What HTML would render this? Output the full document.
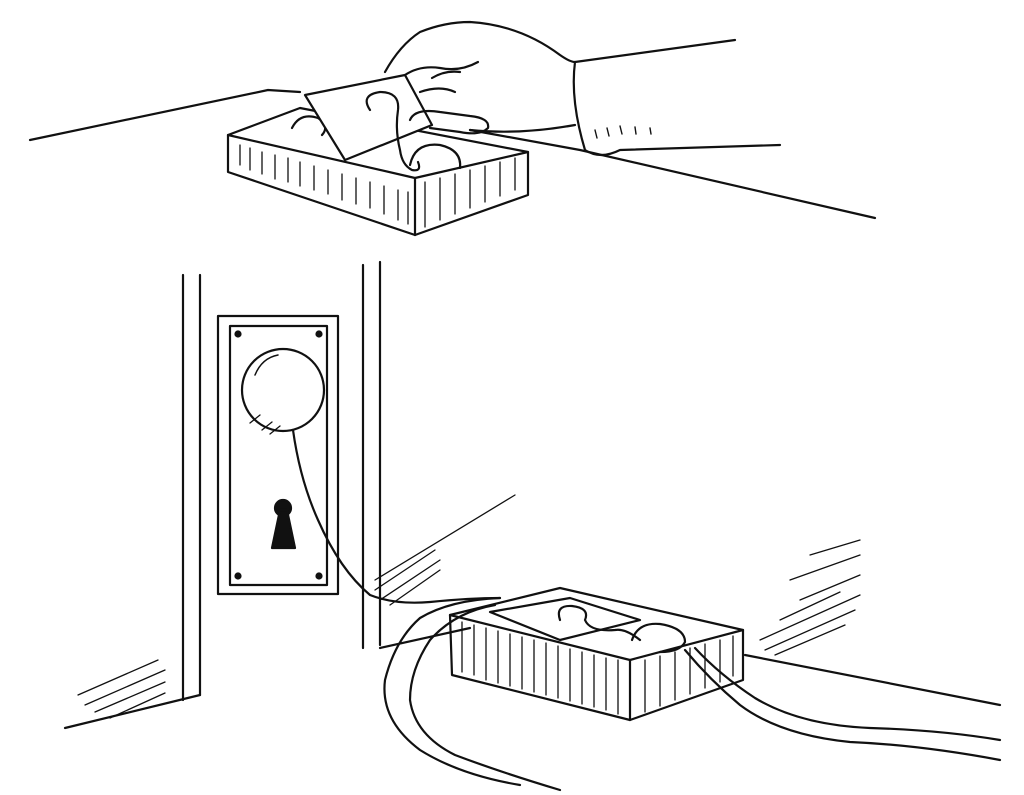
<!DOCTYPE html>
<html><head><meta charset="utf-8"><style>
html,body{margin:0;padding:0;background:#fff;}
svg{display:block}
</style></head><body>
<svg width="1024" height="795" viewBox="0 0 1024 795" xmlns="http://www.w3.org/2000/svg" fill="none" stroke="#111" stroke-width="2.2" stroke-linecap="round" stroke-linejoin="round">
<!-- top table -->
<path d="M30 140 L268 90 L300 92"/>
<path d="M470 130 L580 150 L875 218"/>
<!-- top box -->
<path d="M228 135 L300 108 L528 152 L415 178 Z" fill="#fff"/>
<path d="M228 135 L228 172 L415 235 L415 178"/>
<path d="M415 235 L528 195 L528 152"/>
<g stroke-width="1.3">
<path d="M240 145 v20 M250 148 v22 M262 152 v22 M275 155 v24 M288 158 v24 M300 162 v24 M314 166 v24 M328 170 v24 M342 174 v26 M356 178 v26 M370 182 v26 M384 186 v28 M398 190 v30 M408 192 v32"/>
<path d="M425 182 v45 M440 178 v42 M455 174 v40 M470 170 v38 M485 166 v36 M500 162 v34 M515 158 v32"/>
</g>
<path d="M292 128 Q300 112 318 118 Q330 126 322 135"/>
<path d="M410 165 Q415 142 440 145 Q462 150 460 168"/>
<!-- card -->
<path d="M305 95 L405 75 L432 125 L345 160 Z" fill="#fff"/>
<path d="M370 110 Q360 95 380 92 Q400 92 398 110 Q395 130 400 150 Q402 165 412 170 Q422 172 418 162"/>
<!-- hand -->
<path d="M385 72 Q400 45 420 32 Q445 22 470 22 Q520 25 560 55 Q570 62 575 62"/>
<path d="M405 75 Q420 65 440 68 Q460 72 478 62"/>
<path d="M410 120 Q415 108 440 112 L470 116 Q490 118 488 128 Q480 136 460 132 L430 128"/>
<path d="M470 130 Q520 135 575 125"/>
<path d="M420 92 Q440 85 455 92 M432 78 Q445 70 460 72"/>
<path d="M575 62 L735 40 M575 62 Q570 100 585 150 Q600 160 620 150 L780 145"/>
<path d="M595 130 l2 8 M607 128 l2 8 M620 126 l2 8 M635 127 l1 7 M650 128 l1 6" stroke-width="1.4"/>
<!-- door frame -->
<path d="M183 275 V700 M200 275 V695"/>
<path d="M363 265 V648 M380 262 V645"/>
<!-- plate -->
<rect x="218" y="316" width="120" height="278"/>
<rect x="230" y="326" width="97" height="259"/>
<circle cx="238" cy="334" r="2.5" fill="#111"/><circle cx="319" cy="334" r="2.5" fill="#111"/>
<circle cx="238" cy="576" r="2.5" fill="#111"/><circle cx="319" cy="576" r="2.5" fill="#111"/>
<circle cx="283" cy="390" r="41" fill="#fff"/>
<path d="M255 375 Q262 358 278 355" stroke-width="1.5"/>
<path d="M262 430 l10 -8 M270 434 l10 -8 M250 423 l10 -8" stroke-width="1.3"/>
<circle cx="283" cy="508" r="8" fill="#111"/>
<path d="M280 510 L272 548 L295 548 L287 510 Z" fill="#111"/>
<!-- wire from knob -->
<path d="M293 430 Q300 480 318 520 Q340 570 370 595 Q395 605 430 602 Q470 598 500 598"/>
<!-- floor lines -->
<path d="M65 728 L200 695 M380 648 L470 628"/>
<path d="M745 655 L1000 705"/>
<g stroke-width="1.3">
<path d="M78 695 l80 -35 M85 705 l80 -35 M95 712 l70 -30 M110 718 l55 -25"/>
<path d="M375 580 l140 -85 M375 590 l60 -40 M380 600 l60 -40 M390 605 l50 -35"/>
<path d="M760 640 l100 -45 M765 650 l90 -40 M775 655 l70 -30 M780 620 l60 -28 M790 580 l70 -25 M800 600 l60 -25 M810 555 l50 -15"/>
</g>
<!-- bottom box -->
<path d="M450 615 L560 588 L743 630 L630 660 Z" fill="#fff"/>
<path d="M450 615 L452 675 L630 720 L630 660"/>
<path d="M630 720 L743 680 L743 630"/>
<g stroke-width="1.3">
<path d="M462 622 v50 M474 625 v50 M486 628 v52 M498 631 v52 M510 634 v52 M522 637 v52 M534 640 v52 M546 643 v52 M558 646 v52 M570 649 v52 M582 652 v52 M594 655 v52 M606 658 v52 M618 660 v54"/>
<path d="M645 660 v52 M660 656 v50 M675 652 v48 M690 648 v46 M705 644 v44 M720 640 v42 M733 636 v40"/>
</g>
<path d="M490 612 L570 598 L640 620 L560 640 Z"/>
<path d="M560 620 Q555 605 572 606 Q590 608 585 620 Q590 632 615 630 Q625 628 640 640"/>
<path d="M632 640 Q638 622 660 624 Q685 628 685 642 Q680 652 660 652"/>
<!-- cables -->
<path d="M500 598 Q450 600 420 618 Q395 640 385 680 Q380 720 420 750 Q460 775 520 785"/>
<path d="M495 605 Q455 612 430 640 Q410 670 410 700 Q415 735 455 755 Q500 772 560 790"/>
<path d="M685 650 Q710 680 740 705 Q780 735 850 742 Q920 745 1000 760"/>
<path d="M695 648 Q720 675 755 698 Q800 725 870 728 Q940 730 1000 740"/>
</svg>
</body></html>
